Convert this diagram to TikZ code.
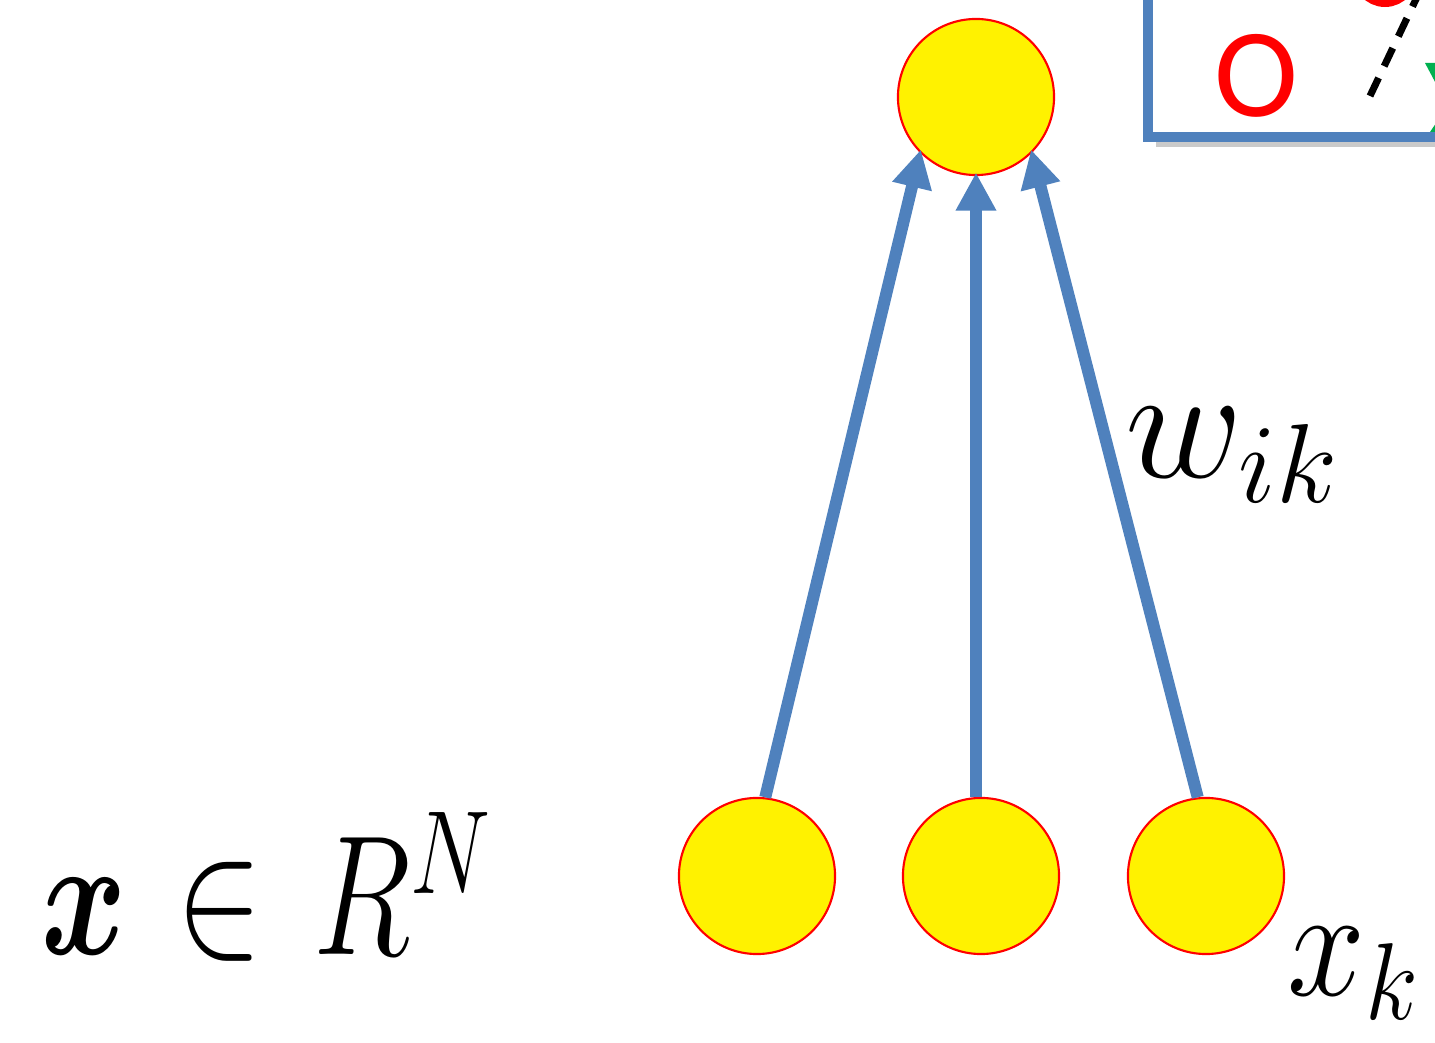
\documentclass[tikz,border=0pt]{standalone}
\usepackage{amsmath,amssymb,bm}
\usepackage{fontspec}
\newfontfamily\slidefont{Carlito}
\usetikzlibrary{arrows.meta}
\definecolor{wireblue}{RGB}{79,129,189}
\definecolor{markgreen}{RGB}{0,176,80}
\begin{document}
\begin{tikzpicture}[
    x=0.01cm, y=-0.01cm,
    neuron/.style={circle, minimum size=1.56cm, inner sep=0pt, fill=yellow, draw=red, line width=0.6pt},
    wire/.style={-{Triangle[width=0.38cm, length=0.38cm]}, line width=0.12cm, draw=wireblue, shorten >=-1pt},
    mathlabel/.style={anchor=base west, inner sep=0pt, font=\fontsize{24}{28}\selectfont, transform shape}
]
    \useasboundingbox (0,0) rectangle (1435,1043);
    \clip (0,0) rectangle (1435,1043);

    \node[neuron] at (976,97) (out) {};
    \node[neuron] at (757,876) (in1) {};
    \node[neuron] at (981,876) (in2) {};
    \node[neuron] at (1206,876) (in3) {};

    \draw[wire] (in1.84) -- (out.225);
    \draw[wire] (in2.north -| out.south) -- (out.south);
    \draw[wire] (in3.96) -- (out.-45);

    \node[mathlabel, xscale=1.48, yscale=1.95] at (40,955) (space) {$\bm{x}\mskip 2mu\in\mskip 2mu R^{N}$};
    \node[mathlabel, scale=1.85] at (1124,478) (weight) {$w_{ik}$};
    \node[mathlabel, xscale=1.6, yscale=1.8] at (1286,996) (input) {$x_k$};

    % corner of the next panel
    \fill[black!35, opacity=0.6] (1156,-60) rectangle (1500,147);
    \draw[wireblue, line width=0.1cm, fill=white] (1148,-60) rectangle (1500,137);
    \node[text=red, font=\slidefont\fontsize{36}{40}\selectfont, inner sep=0pt] at (1256,76) (mark1) {O};
    \draw[red, line width=0.14cm] (1385,-32) ellipse (28 and 32);
    \draw[black, line width=0.07cm, dash pattern=on 0.2cm off 0.13cm] (1370,96) -- (1418,-5);
    \fill[markgreen] (1425,63) -- (1460,63) -- (1442,95) -- cycle;
    \fill[markgreen] (1430,132) -- (1445,110) -- (1460,132) -- cycle;
\end{tikzpicture}
\end{document}
